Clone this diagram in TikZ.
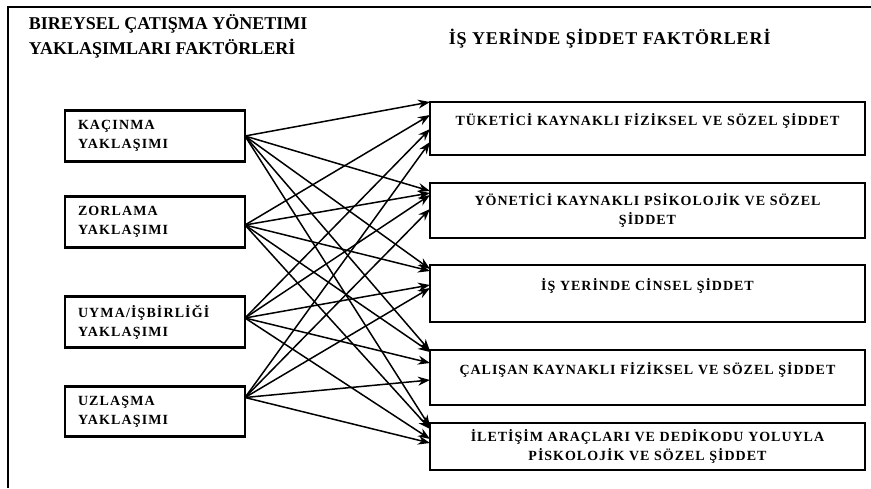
\documentclass[tikz,border=0pt]{standalone}
\usepackage{fontspec}
\setmainfont{Liberation Serif}
\usetikzlibrary{positioning,arrows.meta}

\begin{document}
\begin{tikzpicture}[%
		x=1pt,
		y=-1pt,
		->,
		>={Stealth[length=12pt,width=9pt]},
		line width=1.5pt,
		node distance=28pt,
		yaklasim/.style={%
			minimum width=180pt,
			minimum height=51pt,
			text width=154pt,
			align=left,
			inner sep=0pt,
			outer sep=0pt,
			line width=2.8pt,
			font=\fontsize{14}{19}\selectfont\bfseries\addfontfeatures{LetterSpace=8},
			draw
		},
		siddet/.style={%
			minimum width=435pt,
			minimum height=55pt,
			text width=425pt,
			align=center,
			inner sep=0pt,
			outer sep=0pt,
			line width=2pt,
			font=\fontsize{14}{19}\selectfont\bfseries\addfontfeatures{LetterSpace=7},
			draw
		},
		baslik/.style={%
			align=left,
			anchor=west,
			inner sep=0pt,
			font=\fontsize{18}{25}\selectfont\bfseries
		}
		]
		\useasboundingbox (0,0) rectangle (871,488);
		\draw[-,line width=1.6pt] (8,488) -- (8,7) -- (871,7);
		
		\node[baslik] (t1) at (28,36)   {BIREYSEL ÇATIŞMA YÖNETIMI\\YAKLAŞIMLARI FAKTÖRLERİ};
		\node[baslik, font=\fontsize{18}{25}\selectfont\bfseries\addfontfeatures{LetterSpace=5}] (t2) at (448,38.5) {İŞ YERİNDE ŞİDDET FAKTÖRLERİ};
		
		\node[yaklasim] (k1) at (155,136)                              {KAÇINMA\\YAKLAŞIMI};
		\node[yaklasim] (k2) [below=35pt of k1]                        {ZORLAMA\\YAKLAŞIMI};
		\node[yaklasim] (k3) [below=49pt of k2]                        {UYMA/İŞBİRLİĞİ\\YAKLAŞIMI};
		\node[yaklasim] (k4) [below=39pt of k3, minimum height=50pt]   {UZLAŞMA\\YAKLAŞIMI};
		
		\node[siddet] (s1) at (647.5,128.5) [minimum height=53pt]      {TÜKETİCİ KAYNAKLI FİZİKSEL VE SÖZEL ŞİDDET\\\mbox{}};
		\node[siddet] (s2) [below=of s1]                               {YÖNETİCİ KAYNAKLI PSİKOLOJİK VE SÖZEL\\ŞİDDET};
		\node[siddet] (s3) [below=27pt of s2, minimum height=57pt]     {İŞ YERİNDE CİNSEL ŞİDDET\\\mbox{}};
		\node[siddet] (s4) [below=of s3]                               {ÇALIŞAN KAYNAKLI FİZİKSEL VE SÖZEL ŞİDDET\\\mbox{}};
		\node[siddet] (s5) [below=18pt of s4, minimum height=47pt]     {İLETİŞİM ARAÇLARI VE DEDİKODU YOLUYLA\\PİSKOLOJİK VE SÖZEL ŞİDDET};
		
		\path (k1.east) edge (s1.north west)
		edge ([yshift=-8pt]s2.north west)
		edge ([yshift=-4pt]s3.north west)
		edge ([yshift=-1pt]s4.north west)
		edge ([yshift=-4pt]s5.north west);
		\path ([yshift=-3pt]k2.east) edge ([yshift=-13pt]s1.north west)
		edge ([yshift=-10pt]s2.north west)
		edge ([yshift=-6pt]s3.north west)
		edge ([yshift=-2pt]s4.north west)
		edge ([yshift=-6pt]s5.north west);
		\path ([yshift=4pt]k3.east) edge ([yshift=-27pt]s1.north west)
		edge ([yshift=-12pt]s2.north west)
		edge ([yshift=-20pt]s3.north west)
		edge ([yshift=-13pt]s4.north west)
		edge ([yshift=-16pt]s5.north west);
		\path ([yshift=14pt]k4.east) edge ([yshift=-40pt]s1.north west)
		edge ([yshift=-26pt]s2.north west)
		edge ([yshift=-23pt]s3.north west)
		edge ([yshift=-30pt]s4.north west)
		edge ([yshift=-20pt]s5.north west);
\end{tikzpicture}
\end{document}
